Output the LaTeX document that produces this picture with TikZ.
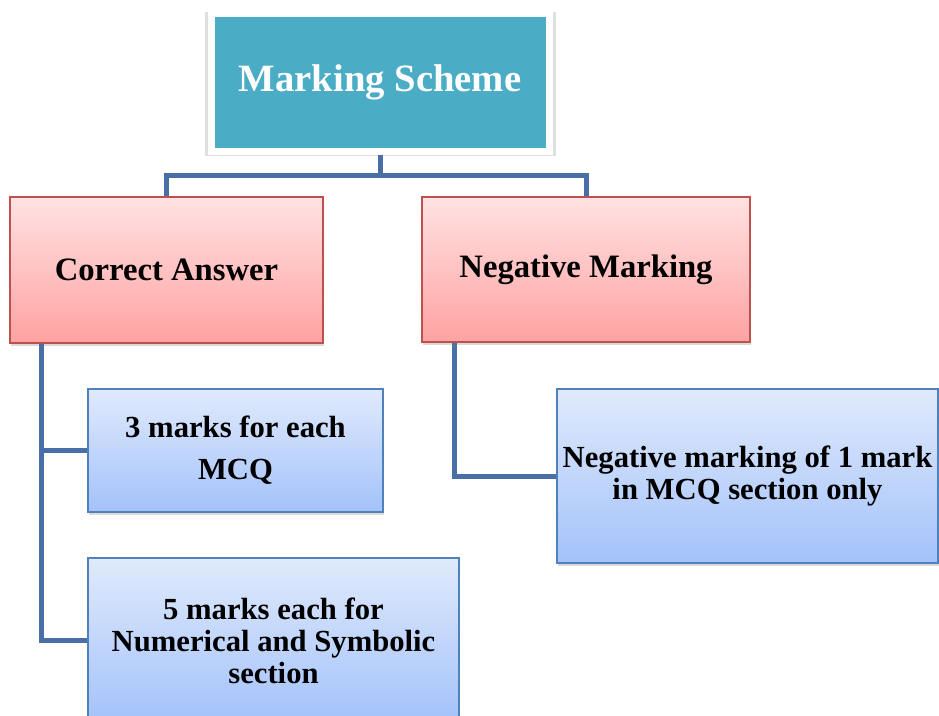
\documentclass[tikz,border=0pt]{standalone}
\usepackage{fontspec}
\setmainfont{Liberation Serif}
\usetikzlibrary{shadows,positioning}
\definecolor{headfill}{HTML}{4BACC6}
\definecolor{pinkline}{HTML}{C0504D}
\definecolor{pinktop}{HTML}{FFE2E2}
\definecolor{pinkbot}{HTML}{FFA2A2}
\definecolor{blueline}{HTML}{4F81BD}
\definecolor{bluetop}{HTML}{E0EAFC}
\definecolor{bluebot}{HTML}{A3C2FA}
\definecolor{linkblue}{HTML}{4870A6}

\begin{document}
\begin{tikzpicture}[x=0.75pt, y=-0.75pt,
    box/.style={rectangle, align=center, drop shadow={opacity=0.3, shadow xshift=1pt, shadow yshift=-2pt}},
    head/.style={box, fill=headfill, draw=white, line width=5.25pt, text=white,
      font=\fontsize{29}{34}\selectfont\bfseries, minimum width=253.5pt, minimum height=103.5pt,
      drop shadow={opacity=0.25, shadow scale=1.04, shadow xshift=0.5pt, shadow yshift=-1.5pt}},
    cat/.style={box, draw=pinkline, line width=1pt, top color=pinktop, bottom color=pinkbot,
      font=\fontsize{24.5}{29}\selectfont\bfseries},
    leaf/.style={box, draw=blueline, line width=1pt, top color=bluetop, bottom color=bluebot,
      inner sep=2pt, font=\fontsize{23}{24}\selectfont\bfseries},
    link/.style={draw=linkblue, line width=3.75pt}]
    \clip (0,0) rectangle (939,715);
    \node (scheme) [head] at (380,82) {Marking Scheme};
    \node (correct) [cat, minimum width=234.75pt, minimum height=109.5pt] at (166.5,270) {Correct Answer};
    \node (negative) [cat, minimum width=246pt, minimum height=108.75pt] at (586,269.5) {Negative Marking};
    \node (marks3) [leaf, minimum width=221.25pt, minimum height=92.25pt,
      font=\fontsize{23}{31.5}\selectfont\bfseries] at (235.5,450.5) {3 marks for each\\MCQ};
    \node (marks5) [leaf, minimum width=278.25pt, minimum height=123.75pt] at (273.5,640.5)
      {5 marks each for\\Numerical and Symbolic\\section};
    \node (negmark) [leaf, minimum width=285.75pt, minimum height=130.5pt] at (747.5,476)
      {Negative marking of 1 mark\\in MCQ section only};
    \draw[link] (scheme.south) -- ++(0,21) -| (correct.north);
    \draw[link] (scheme.south) -- ++(0,21) -| (negative.north);
    \draw[link] ([xshift=24pt]correct.south west) |- (marks3.west);
    \draw[link] ([xshift=24pt]correct.south west) |- (marks5.west);
    \draw[link] ([xshift=24.75pt]negative.south west) |- (negmark.west);
\end{tikzpicture}
\end{document}
